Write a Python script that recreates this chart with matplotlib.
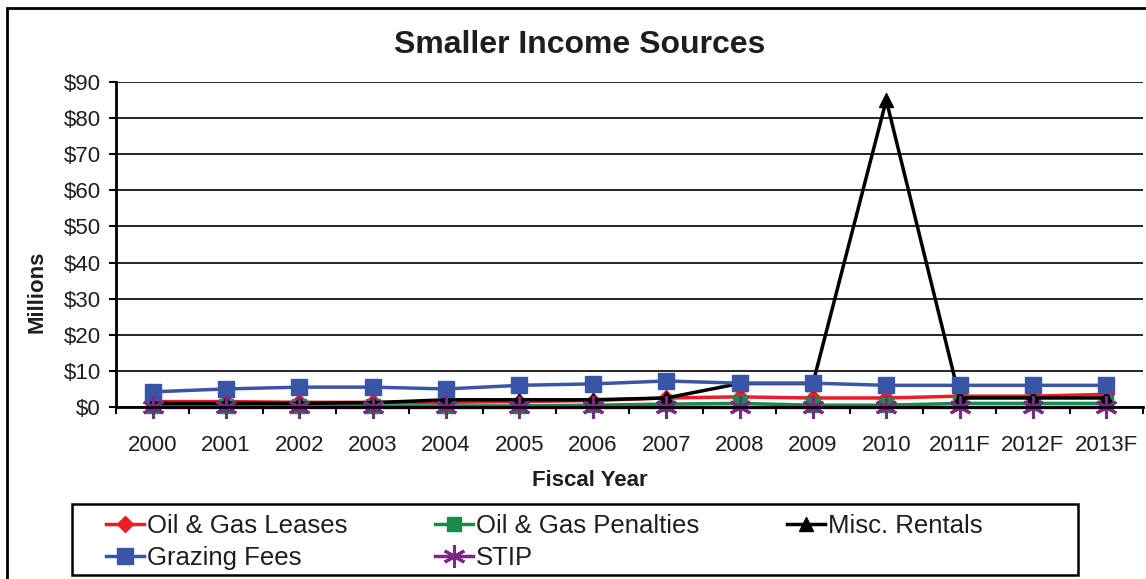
import numpy as np
import matplotlib.pyplot as plt
from matplotlib.patches import Rectangle

years = ["2000", "2001", "2002", "2003", "2004", "2005", "2006", "2007",
         "2008", "2009", "2010", "2011F", "2012F", "2013F"]

oil_gas_leases = [1.5, 1.5, 1.3, 1.3, 1.3, 1.5, 1.8, 2.5, 2.8, 2.5, 2.5, 3.0, 3.0, 3.5]
oil_gas_penalties = [0.3, 0.3, 0.3, 0.3, 0.3, 0.3, 0.5, 0.8, 1.0, 0.5, 0.5, 1.0, 1.0, 1.0]
misc_rentals = [1.0, 1.0, 1.0, 1.2, 2.0, 2.0, 2.0, 2.5, 6.5, 6.5, 85.0, 2.5, 2.5, 2.5]
grazing_fees = [4.2, 5.0, 5.5, 5.5, 5.0, 6.0, 6.4, 7.2, 6.6, 6.6, 6.0, 6.0, 6.0, 6.0]
stip = [0.1, 0.1, 0.1, 0.1, 0.1, 0.1, 0.1, 0.1, 0.1, 0.1, 0.1, 0.1, 0.1, 0.1]

txt = "#1e1e1e"
plt.rcParams['font.family'] = ['Liberation Sans', 'DejaVu Sans']
plt.rcParams['text.color'] = txt

W, H = 1146, 579
fig = plt.figure(figsize=(W / 100, H / 100), dpi=100)
ax = fig.add_axes([116 / W, 1 - 407 / H, 1027 / W, 325 / H])

x = np.arange(len(years))
l1, = ax.plot(x, oil_gas_leases, color="#ee1c25", marker="D", markersize=8, linewidth=2.5, clip_on=False)
l2, = ax.plot(x, oil_gas_penalties, color="#1b8a4a", marker="s", markersize=10, linewidth=2.5, clip_on=False)
l3, = ax.plot(x, misc_rentals, color="black", marker="^", markersize=10, linewidth=2.5, clip_on=False)
l4, = ax.plot(x, grazing_fees, color="#3a55a5", marker="s", markersize=11, linewidth=2.5, clip_on=False)
l5, = ax.plot(x, stip, color="#7a2a85", marker=(6, 2, 0), markersize=16, markeredgewidth=2.2,
              linewidth=2.5, clip_on=False)

ax.set_xlim(-0.5, len(years) - 0.5)
ax.set_ylim(0, 90)
ax.set_yticks(np.arange(0, 91, 10))
ax.set_yticklabels(["$%d" % v for v in range(0, 91, 10)], fontsize=16, color=txt)
ax.set_xticks(x)
ax.set_xticklabels(years, fontsize=16, color=txt)
ax.set_xticks(np.arange(-0.5, len(years), 1), minor=True)
ax.tick_params(axis="x", which="major", length=0, pad=20)
ax.tick_params(axis="x", which="minor", length=5, width=1.5, direction="out")
ax.tick_params(axis="y", length=5, width=1.5, direction="out", pad=6)
ax.grid(axis="y", color="black", linewidth=1.2)
ax.set_axisbelow(True)
for s in ["top", "right"]:
    ax.spines[s].set_visible(False)
ax.spines["left"].set_linewidth(2)
ax.spines["bottom"].set_linewidth(2)

fig.text(37 / W, 1 - 292 / H, "Millions", fontsize=16, fontweight="bold", rotation=90,
         ha="center", va="center")
fig.text(590 / W, 1 - 480 / H, "Fiscal Year", fontsize=16, fontweight="bold",
         ha="center", va="center")
fig.text(580 / W, 1 - 45 / H, "Smaller Income Sources", fontsize=23, fontweight="bold",
         ha="center", va="center")

# legend box drawn separately, Excel-style fixed width
fig.patches.append(Rectangle((72 / W, 1 - 575 / H), 1006 / W, 71 / H, transform=fig.transFigure,
                             fill=False, edgecolor="black", linewidth=1.8))
leg = fig.legend([l1, l4, l2, l5, l3],
                 ["Oil & Gas Leases", "Grazing Fees", "Oil & Gas Penalties", "STIP", "Misc. Rentals"],
                 loc="upper left", bbox_to_anchor=(93 / W, 1 - 501 / H), ncol=3,
                 fontsize=18.5, frameon=False, handlelength=1.5, columnspacing=3.4,
                 borderpad=0.0, labelspacing=0.3, handletextpad=0.1)
for t in leg.get_texts():
    t.set_color(txt)

fig.patches.append(Rectangle((7 / W, -0.01), 1.02, 1 - 8 / H + 0.01, transform=fig.transFigure,
                             fill=False, edgecolor="black", linewidth=2))

fig.savefig("out.png", dpi=100)
